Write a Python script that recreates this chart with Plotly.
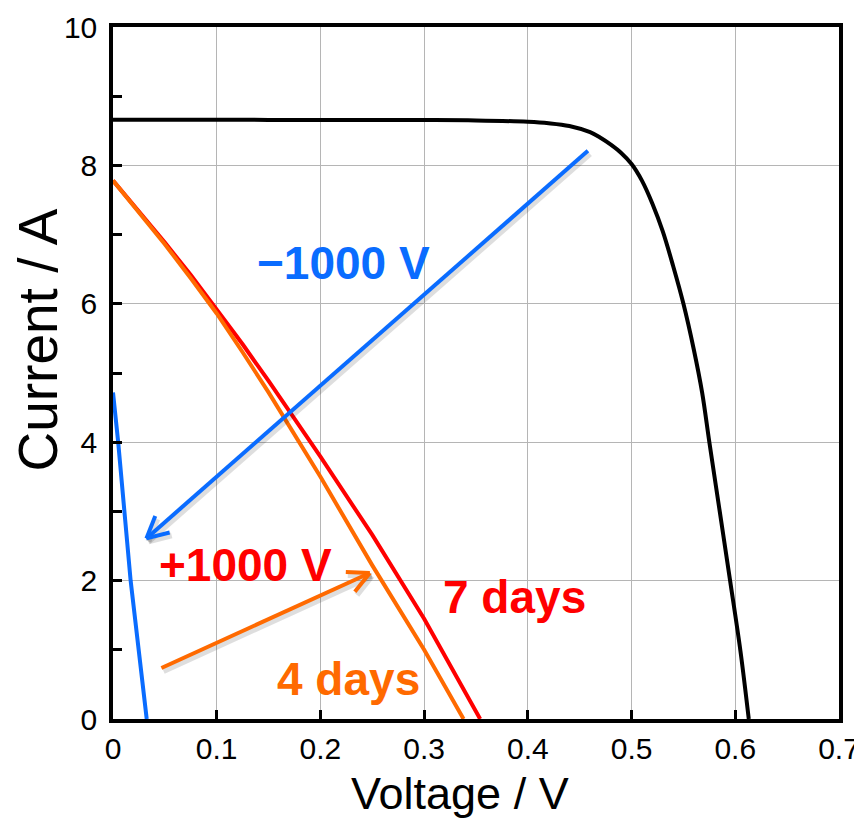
import math
import plotly.graph_objects as go

# ---------------- data ----------------
black_v = [0.0, 0.1, 0.2, 0.3, 0.35, 0.4, 0.42, 0.44, 0.46, 0.47, 0.48, 0.49, 0.5, 0.51, 0.52, 0.53, 0.54, 0.55, 0.56, 0.568, 0.575, 0.585, 0.595, 0.605, 0.613]
black_i = [8.66, 8.66, 8.655, 8.655, 8.65, 8.63, 8.61, 8.57, 8.48, 8.40, 8.30, 8.18, 8.02, 7.78, 7.45, 7.05, 6.55, 6.0, 5.34, 4.72, 4.0, 3.0, 2.0, 0.98, 0.0]

red_v = [0.0, 0.025, 0.05, 0.075, 0.1, 0.125, 0.15, 0.2, 0.25, 0.3, 0.354]
red_i = [7.78, 7.34, 6.885, 6.415, 5.925, 5.415, 4.885, 3.79, 2.66, 1.45, 0.0]

orange_v = [0.0, 0.025, 0.05, 0.075, 0.1, 0.125, 0.15, 0.2, 0.25, 0.3, 0.338]
orange_i = [7.78, 7.33, 6.86, 6.37, 5.86, 5.30, 4.72, 3.50, 2.22, 1.0, 0.0]

blue_v = [0.0, 0.005, 0.017, 0.0325]
blue_i = [4.72, 4.0, 2.0, 0.0]

x_ticks = [0, 0.1, 0.2, 0.3, 0.4, 0.5, 0.6, 0.7]
y_ticks = [0, 2, 4, 6, 8, 10]

labels = [
    ("−1000 V", 0.2225, 6.59, "#0a6cff"),
    ("+1000 V", 0.1275, 2.22, "#ff0000"),
    ("7 days", 0.3875, 1.76, "#ff0000"),
    ("4 days", 0.2272, 0.58, "#ff6a00"),
]
# arrows: (tail_v, tail_i, head_v, head_i, colour)
arrows = [
    (0.4579, 8.21, 0.0322, 2.61, "#0a6cff"),
    (0.0467, 0.737, 0.2476, 2.11, "#ff6a00"),
]

# ---------------- layout geometry ----------------
OFF = 8  # page body margin
W, H = 862 - OFF, 821 - OFF
ML, MR, MT, MB = 113.3 - OFF, 23, 27 - OFF, 101.7
PW, PH = W - ML - MR, H - MT - MB
XR, YR = (0, 0.7), (0, 10)
sx = PW / (XR[1] - XR[0])   # px per volt
sy = PH / (YR[1] - YR[0])   # px per amp

fig = go.Figure()

fig.add_trace(go.Scatter(x=blue_v, y=blue_i, mode="lines",
                         line=dict(color="#0a6cff", width=4), showlegend=False))
fig.add_trace(go.Scatter(x=red_v, y=red_i, mode="lines",
                         line=dict(color="#ff0000", width=4), showlegend=False))
fig.add_trace(go.Scatter(x=orange_v, y=orange_i, mode="lines",
                         line=dict(color="#ff6a00", width=4), showlegend=False))
fig.add_trace(go.Scatter(x=black_v, y=black_i, mode="lines", line_shape="spline",
                         line=dict(color="#000000", width=4), showlegend=False))

shapes = []


def seg(x0, y0, x1, y1, color, width, dx=0.0, dy=0.0):
    # dx, dy pixel offsets (screen: +dy downwards)
    shapes.append(dict(type="line", xref="x", yref="y",
                       x0=x0 + dx / sx, y0=y0 - dy / sy,
                       x1=x1 + dx / sx, y1=y1 - dy / sy,
                       line=dict(color=color, width=width)))


def arrow(tv, ti, hv, hi, color, dx=0.0, dy=0.0, width=4):
    seg(tv, ti, hv, hi, color, width, dx, dy)
    bx = (tv - hv) * sx
    by = (ti - hi) * sy
    n = math.hypot(bx, by)
    bx, by = bx / n, by / n
    L = 24
    for ang in (math.radians(27), math.radians(-27)):
        cx = bx * math.cos(ang) - by * math.sin(ang)
        cy = bx * math.sin(ang) + by * math.cos(ang)
        seg(hv, hi, hv + cx * L / sx, hi + cy * L / sy, color, width, dx, dy)


for tv, ti, hv, hi, c in arrows:
    arrow(tv, ti, hv, hi, "rgba(0,0,0,0.13)", dx=2, dy=3, width=6)
for tv, ti, hv, hi, c in arrows:
    arrow(tv, ti, hv, hi, c)


def px2paper_x(px):
    return (px - OFF - ML) / PW


def px2paper_y(py):
    return 1 + (MT - (py - OFF)) / PH


annotations = []
for text, v, i, c in labels:
    annotations.append(dict(x=v, y=i, xref="x", yref="y", text="<b>" + text + "</b>",
                            showarrow=False,
                            font=dict(family="Liberation Sans, Arial", size=46, color=c),
                            xanchor="center", yanchor="middle"))

annotations.append(dict(x=px2paper_x(460), y=px2paper_y(794), xref="paper", yref="paper",
                        text="Voltage / V", showarrow=False,
                        font=dict(family="Liberation Sans, Arial", size=45, color="black"),
                        xanchor="center", yanchor="middle"))
annotations.append(dict(x=px2paper_x(38), y=px2paper_y(340), xref="paper", yref="paper",
                        text="Current / A", showarrow=False, textangle=-90,
                        font=dict(family="Liberation Sans, Arial", size=55, color="black"),
                        xanchor="center", yanchor="middle"))

axis_font = dict(family="Liberation Sans, Arial", size=30, color="black")

fig.update_layout(
    width=W, height=H,
    margin=dict(l=ML, r=MR, t=MT, b=MB, pad=0, autoexpand=False),
    paper_bgcolor="white", plot_bgcolor="white",
    shapes=shapes, annotations=annotations,
    xaxis=dict(range=list(XR), tickvals=x_ticks, ticktext=[str(t) for t in x_ticks],
               ticks="inside", ticklen=9, tickwidth=3, tickcolor="black",
               showline=True, linecolor="black", linewidth=3.5, mirror=True,
               showgrid=True, gridcolor="#b5b5b5", gridwidth=1, automargin=False,
               zeroline=False, tickfont=axis_font, ticklabelstandoff=0),
    yaxis=dict(range=list(YR), tickvals=y_ticks,
               ticks="inside", ticklen=9, tickwidth=3, tickcolor="black",
               minor=dict(dtick=1, ticks="inside", ticklen=9, tickwidth=3, tickcolor="black",
                          showgrid=False),
               showline=True, linecolor="black", linewidth=3.5, mirror=True,
               showgrid=True, gridcolor="#b5b5b5", gridwidth=1, automargin=False,
               zeroline=False, tickfont=axis_font, ticklabelstandoff=6),
)

fig.write_html("out.html")
